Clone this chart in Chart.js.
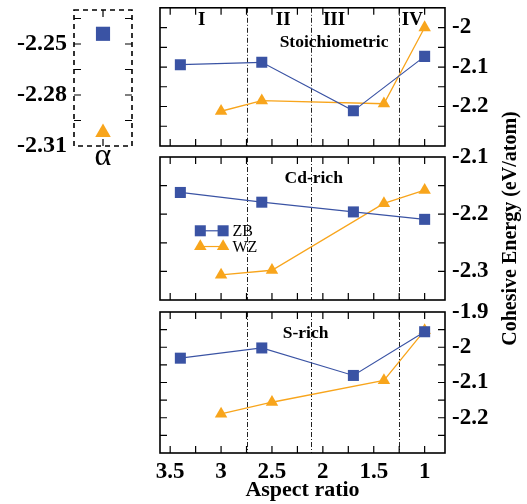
<!DOCTYPE html>
<html>
<head>
<meta charset="utf-8">
<script src="https://cdn.jsdelivr.net/npm/chart.js@4.4.0/dist/chart.umd.min.js"></script>
<style>
    html, body { margin: 0; padding: 0; background: #fff; }
    #wrap { position: relative; width: 527px; height: 504px; }
    #wrap canvas { position: absolute; left: 0; top: 0; }
</style>
</head>
<body>
<div id="wrap">
    <canvas id="alpha-chart" width="527" height="504"></canvas>
    <canvas id="stoich-chart" width="527" height="504"></canvas>
    <canvas id="cd-chart" width="527" height="504"></canvas>
    <canvas id="s-chart" width="527" height="504"></canvas>
</div>
<script>
// --- Dữ liệu ---
const zbX = [3.4, 2.6, 1.7, 1.0];
const wzXStoich = [3.0, 2.6, 1.4, 1.0];
const wzX = [3.0, 2.5, 1.4, 1.0];

const stoichZB = [-2.094, -2.088, -2.211, -2.073];
const stoichWZ = [-2.212, -2.185, -2.193, -2.000];
const cdZB = [-2.162, -2.179, -2.196, -2.209];
const cdWZ = [-2.306, -2.298, -2.181, -2.158];
const sZB = [-2.031, -2.002, -2.080, -1.956];
const sWZ = [-2.189, -2.156, -2.094, -1.952];

const alphaZB = [-2.244];
const alphaWZ = [-2.302];

const xTickValues = [1, 1.25, 1.5, 1.75, 2, 2.25, 2.5, 2.75, 3, 3.25, 3.5];
const xTickLabels = [3.5, 3, 2.5, 2, 1.5, 1];
const stoichTicks = [-2.25, -2.2, -2.15, -2.1, -2.05, -2];
const stoichLabels = [-2.2, -2.1, -2];
const cdTicks = [-2.3, -2.25, -2.2, -2.15, -2.1];
const cdLabels = [-2.3, -2.2, -2.1];
const sTicks = [-2.25, -2.2, -2.15, -2.1, -2.05, -2, -1.95, -1.9];
const sLabels = [-2.2, -2.1, -2, -1.9];
const alphaTicks = [-2.31, -2.295, -2.28, -2.265, -2.25, -2.235];
const alphaLabels = [-2.31, -2.28, -2.25];

const regionBounds = [2.75, 2.12, 1.25];
const regionNames = ['I', 'II', 'III', 'IV'];
const regionNameX = [3.19, 2.39, 1.89, 1.12];

// --- Kiểu ---
const BLUE = '#3a53a4';
const ORANGE = '#f8a51c';
const SERIF = '"Liberation Serif", "Times New Roman", serif';
const SQ_R = 7.8;
const TRI_R = 7.2;

const fmt = v => String(Number(v.toFixed(3)));
const has = (list, v) => list.some(l => Math.abs(l - v) < 1e-6);
const pts = (xs, ys) => ys.map((y, i) => ({ x: xs[i], y: y }));

// plugin: khung, vạch chia hướng vào trong, đường phân vùng, chữ
const decor = {
    id: 'decor',
    beforeDatasetsDraw(chart, args, o) {
        const { ctx, chartArea: a } = chart;
        const x = chart.scales.x;
        ctx.save();
        ctx.strokeStyle = '#222';
        ctx.lineWidth = 1;
        ctx.setLineDash([5, 2, 1, 2]);
        (o.vlines || []).forEach(v => {
            const px = Math.round(x.getPixelForValue(v)) + 0.5;
            ctx.beginPath();
            ctx.moveTo(px, a.top);
            ctx.lineTo(px, a.bottom);
            ctx.stroke();
        });
        ctx.restore();
    },
    afterDraw(chart, args, o) {
        const { ctx, chartArea: a } = chart;
        const { x, y } = chart.scales;
        const TL = 7;
        ctx.save();
        ctx.strokeStyle = '#000';
        ctx.lineWidth = 1.2;
        ctx.beginPath();
        x.ticks.forEach(t => {
            const px = x.getPixelForValue(t.value);
            if (px < a.left + 2 || px > a.right - 2) return;
            ctx.moveTo(px, a.top); ctx.lineTo(px, a.top + TL);
            ctx.moveTo(px, a.bottom); ctx.lineTo(px, a.bottom - TL);
        });
        y.ticks.forEach(t => {
            const py = y.getPixelForValue(t.value);
            if (py < a.top + 2 || py > a.bottom - 2) return;
            ctx.moveTo(a.left, py); ctx.lineTo(a.left + TL, py);
            ctx.moveTo(a.right, py); ctx.lineTo(a.right - TL, py);
        });
        ctx.stroke();

        ctx.lineWidth = 1.6;
        ctx.setLineDash(o.dash || []);
        ctx.strokeRect(a.left, a.top, a.width, a.height);
        ctx.setLineDash([]);

        ctx.fillStyle = '#000';
        ctx.textBaseline = 'middle';
        (o.texts || []).forEach(t => {
            ctx.font = t.font;
            ctx.textAlign = t.align || 'center';
            ctx.fillText(t.text, x.getPixelForValue(t.x), y.getPixelForValue(t.y));
        });

        if (o.legend) {
            const lg = o.legend;
            lg.items.forEach(it => {
                const py = y.getPixelForValue(it.y);
                const p1 = x.getPixelForValue(lg.x1);
                const p2 = x.getPixelForValue(lg.x2);
                ctx.strokeStyle = it.color;
                ctx.lineWidth = 1.2;
                ctx.beginPath(); ctx.moveTo(p1, py); ctx.lineTo(p2, py); ctx.stroke();
                ctx.fillStyle = it.color;
                [p1, p2].forEach(px => Chart.helpers.drawPoint(ctx, {
                    pointStyle: it.style, rotation: 0, radius: it.r, borderWidth: 0
                }, px, py));
                ctx.fillStyle = '#000';
                ctx.font = '16px ' + SERIF;
                ctx.textAlign = 'left';
                ctx.fillText(it.label, x.getPixelForValue(lg.tx), py + 1);
            });
        }

        if (o.yTitle) {
            ctx.fillStyle = '#000';
            ctx.font = 'bold 20px ' + SERIF;
            ctx.textAlign = 'center';
            ctx.translate(a.right + 66, (a.top + a.bottom) / 2);
            ctx.rotate(-Math.PI / 2);
            ctx.fillText(o.yTitle, 0, 0);
        }
        ctx.restore();
    }
};

const tickFont = { family: SERIF, size: 23, weight: 'bold' };

function seriesSets(xsZB, ysZB, xsWZ, ysWZ) {
    return [{
        label: 'ZB',
        data: pts(xsZB, ysZB),
        showLine: true,
        borderColor: BLUE,
        backgroundColor: BLUE,
        borderWidth: 1.2,
        pointStyle: 'rect',
        pointRadius: SQ_R,
        pointBorderWidth: 0
    }, {
        label: 'WZ',
        data: pts(xsWZ, ysWZ),
        showLine: true,
        borderColor: ORANGE,
        backgroundColor: ORANGE,
        borderWidth: 1.3,
        pointStyle: 'triangle',
        pointRadius: TRI_R,
        pointBorderWidth: 0
    }];
}

function makePanel(id, cfg) {
    return new Chart(document.getElementById(id), {
        type: 'scatter',
        data: { datasets: cfg.datasets },
        options: {
            responsive: false,
            animation: false,
            events: [],
            layout: { padding: { left: 160, top: cfg.top, right: 0, bottom: cfg.showX ? 0 : 504 - cfg.bottom } },
            plugins: {
                legend: { display: false },
                tooltip: { enabled: false },
                decor: cfg.decor
            },
            scales: {
                x: {
                    type: 'linear',
                    reverse: true,
                    min: 0.8,
                    max: 3.6,
                    display: cfg.showX,
                    grid: { display: false, drawTicks: false },
                    border: { display: false },
                    ticks: {
                        padding: 5,
                        font: tickFont,
                        color: '#000',
                        maxRotation: 0,
                        autoSkip: false,
                        callback: v => has(xTickLabels, v) ? fmt(v) : ''
                    },
                    title: {
                        display: cfg.showX,
                        text: 'Aspect ratio',
                        color: '#000',
                        font: { family: SERIF, size: 22, weight: 'bold' },
                        padding: { top: 0, bottom: 0 }
                    },
                    afterBuildTicks: s => { s.ticks = xTickValues.map(v => ({ value: v })); },
                    afterFit: s => {
                        if (cfg.showX) s.height = 504 - cfg.bottom;
                        s.paddingLeft = 0; s.paddingRight = 0;
                    }
                },
                y: {
                    position: 'right',
                    min: cfg.min,
                    max: cfg.max,
                    grid: { display: false, drawTicks: false },
                    border: { display: false },
                    ticks: {
                        padding: 7,
                        font: tickFont,
                        color: '#000',
                        autoSkip: false,
                        callback: v => has(cfg.labels, v) ? fmt(v) : ''
                    },
                    afterBuildTicks: s => { s.ticks = cfg.ticks.map(v => ({ value: v })); },
                    afterFit: s => { s.width = 82; s.paddingTop = 0; s.paddingBottom = 0; }
                }
            }
        },
        plugins: [decor]
    });
}

// --- Panel α ---
new Chart(document.getElementById('alpha-chart'), {
    type: 'scatter',
    data: {
        datasets: [{
            data: alphaZB.map(v => ({ x: 1, y: v })),
            backgroundColor: BLUE,
            pointStyle: 'rect',
            pointRadius: 10,
            pointBorderWidth: 0
        }, {
            data: alphaWZ.map(v => ({ x: 1, y: v })),
            backgroundColor: ORANGE,
            pointStyle: 'triangle',
            pointRadius: 9,
            pointBorderWidth: 0
        }]
    },
    options: {
        responsive: false,
        animation: false,
        events: [],
        layout: { padding: { left: 0, top: 4, right: 527 - 132, bottom: 504 - 146 } },
        plugins: {
            legend: { display: false },
            tooltip: { enabled: false },
            decor: {
                dash: [5, 4],
                texts: [{ text: 'α', x: 1, y: -2.3165, font: '32px ' + SERIF }]
            }
        },
        scales: {
            x: {
                type: 'linear',
                min: 0,
                max: 2,
                display: false,
                afterBuildTicks: s => { s.ticks = [{ value: 1 }]; }
            },
            y: {
                position: 'left',
                min: -2.31,
                max: -2.23,
                grid: { display: false, drawTicks: false },
                border: { display: false },
                ticks: {
                    padding: 7,
                    font: { family: SERIF, size: 24, weight: 'bold' },
                    color: '#000',
                    autoSkip: false,
                    callback: v => has(alphaLabels, v) ? fmt(v) : ''
                },
                afterBuildTicks: s => { s.ticks = alphaTicks.map(v => ({ value: v })); },
                afterFit: s => { s.width = 74; s.paddingTop = 0; s.paddingBottom = 0; }
            }
        }
    },
    plugins: [decor]
});

// --- Ba panel bên phải ---
const romanTexts = regionNames.map((n, i) => ({
    text: n, x: regionNameX[i], y: -1.98, font: 'bold 19px ' + SERIF
}));

makePanel('stoich-chart', {
    top: 4, bottom: 146, min: -2.3, max: -1.95,
    ticks: stoichTicks, labels: stoichLabels, showX: false,
    datasets: seriesSets(zbX, stoichZB, wzXStoich, stoichWZ),
    decor: {
        vlines: regionBounds,
        texts: romanTexts.concat([{ text: 'Stoichiometric', x: 1.89, y: -2.039, font: 'bold 17.5px ' + SERIF }])
    }
});

makePanel('cd-chart', {
    top: 157, bottom: 300, min: -2.35, max: -2.1,
    ticks: cdTicks, labels: cdLabels, showX: false,
    datasets: seriesSets(zbX, cdZB, wzX, cdWZ),
    decor: {
        vlines: regionBounds,
        texts: [{ text: 'Cd-rich', x: 2.09, y: -2.137, font: 'bold 17.5px ' + SERIF }],
        legend: {
            x1: 3.204, x2: 2.98, tx: 2.888,
            items: [
                { label: 'ZB', style: 'rect', color: BLUE, r: SQ_R, y: -2.229 },
                { label: 'WZ', style: 'triangle', color: ORANGE, r: TRI_R, y: -2.2565 }
            ]
        },
        yTitle: 'Cohesive Energy (eV/atom)'
    }
});

makePanel('s-chart', {
    top: 312, bottom: 453, min: -2.3, max: -1.9,
    ticks: sTicks, labels: sLabels, showX: true,
    datasets: seriesSets(zbX, sZB, wzX, sWZ),
    decor: {
        vlines: regionBounds,
        texts: [{ text: 'S-rich', x: 2.17, y: -1.962, font: 'bold 17.5px ' + SERIF }]
    }
});
</script>
</body>
</html>
